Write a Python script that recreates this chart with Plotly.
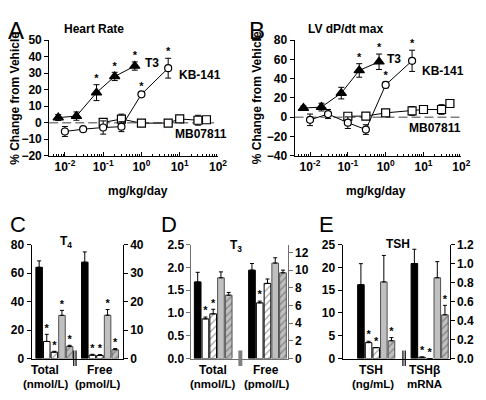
import math
import plotly.graph_objects as go

# ---------------- data: panels A and B ----------------
t3_dose = [0.0067, 0.02, 0.067, 0.2, 0.67]
kb_dose = [0.01, 0.03, 0.1, 0.3, 1, 5]
mb_dose = [0.1, 0.3, 1, 5, 10, 30, 50]

hr_t3 = [3.1, 4.0, 18.2, 28.0, 34.3]
hr_t3_err = [1.8, 2.5, 4.8, 2.5, 2.5]
hr_t3_sig = [0, 0, 1, 1, 1]
hr_kb = [-5.3, -3.9, -2.9, -2.4, 17.2, 33.0]
hr_kb_err = [3.0, 0.6, 4.0, 3.0, 1.2, 6.0]
hr_kb_sig = [0, 0, 0, 0, 1, 1]
hr_mb = [0.2, 2.2, -0.3, -0.2, 2.3, 1.5, 1.8]
hr_mb_err = [0.6, 3.0, 0.8, 0.5, 1.5, 3.0, 0.8]

lv_t3 = [9.5, 10.5, 25.0, 48.5, 57.5]
lv_t3_err = [2.0, 4.0, 6.0, 7.0, 8.0]
lv_t3_sig = [0, 0, 0, 1, 1]
lv_kb = [-2.7, 3.3, -5.7, -12.8, 33.5, 58.5]
lv_kb_err = [6.0, 4.7, 6.0, 5.0, 3.0, 11.0]
lv_kb_sig = [0, 0, 0, 0, 1, 1]
lv_mb = [1.0, 1.2, 4.5, 6.5, 8.0, 8.0, 14.2]
lv_mb_err = [1.0, 0.8, 2.5, 4.5, 2.0, 5.0, 1.0]

log_tick_vals = [0.01, 0.1, 1, 10, 100]
log_tick_text = ["10<sup>-2</sup>", "10<sup>-1</sup>", "10<sup>0</sup>",
                 "10<sup>1</sup>", "10<sup>2</sup>"]

# ---------------- data: panels C, D, E ----------------
c_total = [64.0, 12.0, 4.5, 30.3, 8.5]
c_total_err = [4.5, 5.0, 0.6, 3.5, 0.8]
c_total_sig = [0, 1, 1, 1, 1]
c_free = [33.8, 1.2, 1.1, 15.2, 3.1]
c_free_err = [3.6, 0.3, 0.3, 2.0, 0.4]
c_free_sig = [0, 1, 1, 1, 1]

d_total = [1.68, 0.87, 0.98, 1.77, 1.39]
d_total_err = [0.21, 0.04, 0.10, 0.13, 0.06]
d_total_sig = [0, 1, 1, 0, 0]
d_free = [10.0, 6.3, 8.5, 10.8, 9.7]
d_free_err = [0.75, 0.2, 0.5, 0.6, 0.3]
d_free_sig = [0, 1, 0, 0, 0]

e_tsh = [16.2, 3.5, 2.4, 16.8, 3.9]
e_tsh_err = [4.6, 0.3, 0.0, 5.8, 0.7]
e_tsh_sig = [0, 1, 1, 0, 1]
e_mrna = [1.0, 0.015, 0.0, 0.85, 0.46]
e_mrna_err = [0.15, 0.0, 0.0, 0.17, 0.1]
e_mrna_sig = [0, 1, 1, 0, 1]

# ---------------- helpers ----------------
# the page body has an 8px margin, so the figure is drawn 8px in from the corner
OFF = 8
W, H = 486 - OFF, 400 - OFF
FONT = "Liberation Sans, Arial, sans-serif"


def px(x):
    return (x - OFF) / W


def py(y):
    return 1 - (y - OFF) / H


fig = go.Figure()
annotations = []
shapes = []


def txt(x, y, s, size=11, bold=True, xanchor="center", yanchor="middle", angle=0):
    annotations.append(dict(
        x=px(x), y=py(y), xref="paper", yref="paper", text=s, showarrow=False,
        xanchor=xanchor, yanchor=yanchor, textangle=angle,
        font=dict(family=FONT, size=size, color="black", weight="bold" if bold else "normal")))


def line_series(xs, ys, errs, sym, msize, fill, xa, ya):
    fig.add_trace(go.Scatter(
        x=xs, y=ys, mode="lines+markers", xaxis=xa, yaxis=ya,
        line=dict(color="black", width=1),
        marker=dict(symbol=sym, size=msize, color=fill, line=dict(color="black", width=1.2)),
        error_y=dict(type="data", array=errs, visible=True, color="black",
                     thickness=1, width=3),
        showlegend=False, cliponaxis=False))


def stars(xs, ys, errs, sig, xa, ya):
    sx = [x for x, s in zip(xs, sig) if s]
    sy = [y + e for y, e, s in zip(ys, errs, sig) if s]
    fig.add_trace(go.Scatter(
        x=sx, y=sy, mode="text", text=["*"] * len(sx), textposition="top center",
        textfont=dict(family=FONT, size=11, color="black", weight="bold"),
        xaxis=xa, yaxis=ya, showlegend=False, cliponaxis=False, hoverinfo="skip"))


# ---------------- panels A and B ----------------
line_series(mb_dose, hr_mb, hr_mb_err, "square", 8, "white", "x", "y")
line_series(kb_dose, hr_kb, hr_kb_err, "circle", 7, "white", "x", "y")
line_series(t3_dose, hr_t3, hr_t3_err, "triangle-up", 9, "black", "x", "y")
stars(t3_dose, hr_t3, hr_t3_err, hr_t3_sig, "x", "y")
stars(kb_dose, hr_kb, hr_kb_err, hr_kb_sig, "x", "y")

line_series(mb_dose, lv_mb, lv_mb_err, "square", 8, "white", "x2", "y2")
line_series(kb_dose, lv_kb, lv_kb_err, "circle", 7, "white", "x2", "y2")
line_series(t3_dose, lv_t3, lv_t3_err, "triangle-up", 9, "black", "x2", "y2")
stars(t3_dose, lv_t3, lv_t3_err, lv_t3_sig, "x2", "y2")
stars(kb_dose, lv_kb, lv_kb_err, lv_kb_sig, "x2", "y2")

for xr, yr in (("x", "y"), ("x2", "y2")):
    shapes.append(dict(type="line", xref=xr + " domain", x0=0, x1=1, yref=yr, y0=0, y1=0,
                       line=dict(color="#808080", width=1.6, dash="9px,4px"), layer="below"))

minor_vals = [m * 10 ** e for e in range(-3, 2) for m in range(2, 10)]
minor_vals = [v for v in minor_vals if 10 ** -2.41 <= v <= 100]

tickfont = dict(family=FONT, size=12, color="black", weight="bold")


def log_xaxis(domain, anchor):
    return dict(domain=domain, anchor=anchor, type="log", range=[-2.41, 2.0],
                tickmode="array", tickvals=log_tick_vals, ticktext=log_tick_text,
                ticks="inside", ticklen=4, tickcolor="black", showline=True,
                linecolor="black", linewidth=1, showgrid=False, zeroline=False,
                tickfont=tickfont,
                minor=dict(tickmode="array", tickvals=minor_vals, ticks="inside",
                           ticklen=2, tickcolor="black", showgrid=False))


def lin_yaxis(domain, anchor, rng, dtick, **kw):
    d = dict(domain=domain, anchor=anchor, range=rng, dtick=dtick, tick0=0,
             ticks="outside", ticklen=4, tickcolor="black", showline=True,
             linecolor="black", linewidth=1, showgrid=False, zeroline=False,
             tickfont=tickfont)
    d.update(kw)
    return d


yA = [py(154), py(34)]
layout = dict(
    xaxis=log_xaxis([px(50), px(222)], "y"),
    yaxis=lin_yaxis(yA, "x", [-20, 50], 10),
    xaxis2=log_xaxis([px(300), px(470)], "y2"),
    yaxis2=lin_yaxis(yA, "x2", [-40, 80], 20),
)

# ---------------- bar panels ----------------
bar_colors = ["black", "white", "white", "#c0c0c0", "#c0c0c0"]
bar_lines = ["black", "black", "black", "#505050", "#505050"]
bar_patterns = ["", "", "/", "", "/"]


def bars(xpos, vals, errs, xa, ya):
    fig.add_trace(go.Bar(
        x=xpos, y=vals, xaxis=xa, yaxis=ya, width=0.86,
        marker=dict(color=bar_colors, line=dict(color=bar_lines, width=1),
                    pattern=dict(shape=bar_patterns, fgcolor="black", size=5,
                                 solidity=0.25, fillmode="overlay")),
        error_y=dict(type="data", symmetric=False, array=errs,
                     arrayminus=[0] * len(errs), color="black", thickness=1, width=2),
        showlegend=False))


yB = [py(364.3), py(246)]
panels = [
    dict(xa="x3", yl="y3", yr="y4", lv=c_total, le=c_total_err, ls=c_total_sig,
         rv=c_free, re=c_free_err, rs=c_free_sig, lrng=[0, 80], ldt=20, rrng=[0, 40], rdt=10,
         lfmt="", rfmt="", pl=[0, 1, 2, 3, 4], pr=[6, 7, 8, 9, 10], xr=[-1, 11],
         dom=[32, 125], col="black"),
    dict(xa="x4", yl="y5", yr="y6", lv=d_total, le=d_total_err, ls=d_total_sig,
         rv=d_free, re=d_free_err, rs=d_free_sig, lrng=[0, 2.5], ldt=0.5, rrng=[0, 12.9], rdt=2,
         lfmt=".1f", rfmt="", pl=[0, 1, 2, 3, 4], pr=[7, 8, 9, 10, 11], xr=[-0.8, 11.6],
         dom=[195, 293], col="#707070"),
    dict(xa="x5", yl="y7", yr="y8", lv=e_tsh, le=e_tsh_err, ls=e_tsh_sig,
         rv=e_mrna, re=e_mrna_err, rs=e_mrna_sig, lrng=[0, 25], ldt=5, rrng=[0, 1.2], rdt=0.2,
         lfmt="", rfmt=".1f", pl=[0, 1, 2, 3, 4], pr=[7, 8, 9, 10, 11], xr=[-2.4, 11.6],
         dom=[349, 458], col="black"),
]

for p in panels:
    bars(p["pl"], p["lv"], p["le"], p["xa"], p["yl"])
    bars(p["pr"], p["rv"], p["re"], p["xa"], p["yr"])
    stars(p["pl"], p["lv"], p["le"], p["ls"], p["xa"], p["yl"])
    stars(p["pr"], p["rv"], p["re"], p["rs"], p["xa"], p["yr"])
    xk = "xaxis" + p["xa"][1:]
    ylk = "yaxis" + p["yl"][1:]
    yrk = "yaxis" + p["yr"][1:]
    layout[xk] = dict(domain=[px(p["dom"][0]), px(p["dom"][1])], anchor=p["yl"], range=p["xr"],
                      showticklabels=False, ticks="", showline=True, linecolor=p["col"],
                      linewidth=1, showgrid=False, zeroline=False)
    layout[ylk] = lin_yaxis(yB, p["xa"], p["lrng"], p["ldt"], tickformat=p["lfmt"],
                            linecolor=p["col"], tickcolor=p["col"])
    layout[yrk] = lin_yaxis(yB, p["xa"], p["rrng"], p["rdt"], tickformat=p["rfmt"],
                            overlaying=p["yl"], side="right",
                            linecolor=p["col"], tickcolor=p["col"])


# axis-break marks
def brk(xa, ya, xs, color, width):
    for x in xs:
        shapes.append(dict(type="line", xref=xa, x0=x, x1=x, yref=ya + " domain",
                           y0=-0.065, y1=0.07, line=dict(color=color, width=width)))


brk("x3", "y3", [4.55, 4.85], "black", 1.2)
brk("x4", "y5", [5.5], "#808080", 4)
brk("x5", "y7", [5.5, 5.8], "black", 1.2)

# ---------------- texts ----------------
txt(6, 8, "A", size=24, bold=False, xanchor="left", yanchor="top")
txt(252, 8, "B", size=24, bold=False, xanchor="left", yanchor="top")
txt(8, 240, "C", size=22, bold=False, xanchor="left", yanchor="bottom")
txt(162, 240, "D", size=22, bold=False, xanchor="left", yanchor="bottom")
txt(323, 240, "E", size=22, bold=False, xanchor="left", yanchor="bottom")

txt(96, 23, "Heart Rate", size=12)
txt(352, 23, "LV dP/dt max", size=12)
txt(15, 94, "% Change from Vehicle", size=12, angle=-90)
txt(262, 94, "% Change from Vehicle", size=12, angle=-90)
txt(141, 190, "mg/kg/day", size=12)
txt(383, 190, "mg/kg/day", size=12)

txt(146, 58, "T3", size=12, xanchor="left")
txt(180, 70, "KB-141", size=12, xanchor="left")
txt(176, 131, "MB07811", size=12, xanchor="left")
txt(392, 54, "T3", size=12, xanchor="left")
txt(428, 66, "KB-141", size=12, xanchor="left")
txt(415, 125, "MB07811", size=12, xanchor="left")

txt(67, 243, "T<sub>4</sub>", size=12)
txt(240, 248, "T<sub>3</sub>", size=12)
txt(405, 245, "TSH", size=12)

for x, s in ((46, "Total"), (102, "Free"), (217, "Total"), (271, "Free"),
             (378, "TSH"), (432, "TSHβ")):
    txt(x, 376, s, size=12)
for x, s in ((47, "(nmol/L)"), (100, "(pmol/L)"), (217, "(nmol/L)"), (272, "(pmol/L)"),
             (380, "(ng/mL)"), (432, "mRNA")):
    txt(x, 391, s, size=11.5)

layout.update(
    width=W, height=H, margin=dict(l=0, r=0, t=0, b=0),
    paper_bgcolor="white", plot_bgcolor="white", showlegend=False,
    barmode="overlay", annotations=annotations, shapes=shapes,
    font=dict(family=FONT, color="black"),
)
fig.update_layout(**layout)
fig.write_html("out.html")
